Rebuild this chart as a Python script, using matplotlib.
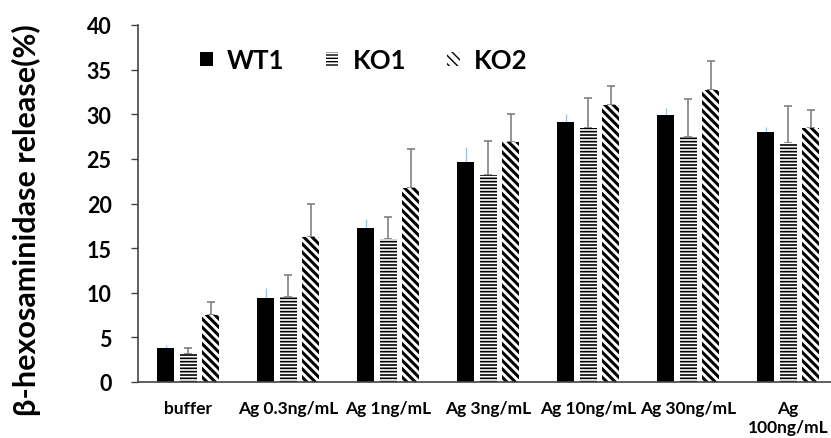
import numpy as np
import matplotlib.pyplot as plt
import matplotlib as mpl

# data
categories = ['buffer', 'Ag 0.3ng/mL', 'Ag 1ng/mL', 'Ag 3ng/mL',
              'Ag 10ng/mL', 'Ag 30ng/mL', 'Ag\n100ng/mL']
wt1 = [3.8, 9.4, 17.3, 24.7, 29.1, 29.9, 28.0]
wt1_err = [0.3, 1.1, 1.0, 1.6, 0.9, 0.8, 0.6]
ko1 = [3.1, 9.5, 16.0, 23.2, 28.5, 27.5, 26.8]
ko1_err = [0.7, 2.5, 2.5, 3.8, 3.3, 4.2, 4.1]
ko2 = [7.5, 16.3, 21.7, 26.9, 31.0, 32.7, 28.5]
ko2_err = [1.5, 3.7, 4.4, 3.1, 2.2, 3.3, 2.0]

plt.rcParams['font.family'] = ['Lato', 'DejaVu Sans']
plt.rcParams['font.weight'] = 'bold'

fig = plt.figure(figsize=(8.31, 4.39), dpi=100)
ax = fig.add_axes([138 / 831, 1 - 383 / 439, 1 - 138 / 831, 357 / 439])

x = np.arange(len(categories))
w = 0.17
off = 0.225

b1 = ax.bar(x - off, wt1, w, color='black', label='WT1', zorder=2)
ax.errorbar(x - off, wt1, yerr=[np.zeros(7), wt1_err], fmt='none',
            ecolor='#9fc3e6', elinewidth=1, capsize=0, zorder=1)

with mpl.rc_context({'hatch.linewidth': 1.2}):
    b2 = ax.bar(x, ko1, w, color='white', edgecolor='black', linewidth=0,
                hatch='-----', label='KO1', zorder=2)
    for p in b2:
        if hasattr(p, 'set_hatch_linewidth'):
            p.set_hatch_linewidth(1.2)
ax.errorbar(x, ko1, yerr=[np.zeros(7), ko1_err], fmt='none',
            ecolor='#808080', elinewidth=1.2, capsize=3, capthick=1.2, zorder=1)

with mpl.rc_context({'hatch.linewidth': 2.2}):
    b3 = ax.bar(x + off, ko2, w, color='white', edgecolor='black', linewidth=0,
                hatch='\\' * 4, label='KO2', zorder=2)
    for p in b3:
        if hasattr(p, 'set_hatch_linewidth'):
            p.set_hatch_linewidth(2.2)
ax.errorbar(x + off, ko2, yerr=[np.zeros(7), ko2_err], fmt='none',
            ecolor='#808080', elinewidth=1.2, capsize=3, capthick=1.2, zorder=1)

ax.set_xlim(-0.5, 6.43)
ax.set_ylim(0, 40)
ax.set_yticks(range(0, 41, 5))
ax.set_xticks(x)
ax.set_xticklabels(categories, fontsize=12.5, fontweight='bold', va='top')
ax.tick_params(axis='x', length=0, pad=13)
ax.tick_params(axis='y', labelsize=15.5, length=5, width=1, color='#444444', pad=14)
for lab in ax.get_yticklabels():
    lab.set_fontweight('bold')

for s in ['top', 'right']:
    ax.spines[s].set_visible(False)
for s in ['left', 'bottom']:
    ax.spines[s].set_color('#444444')
    ax.spines[s].set_linewidth(1.2)

ax.set_ylabel('β-hexosaminidase release(%)', fontsize=22, fontweight='bold')
ax.yaxis.set_label_coords(-0.14, 0.457)

leg = ax.legend(loc='center left', bbox_to_anchor=(0.0895, 0.902), ncol=3, frameon=False,
                prop={'size': 18.5, 'weight': 'bold'}, handlelength=0.5, handleheight=0.5,
                handletextpad=0.55, columnspacing=1.6, borderpad=0, borderaxespad=0)

fig.savefig('out.png', dpi=100)
